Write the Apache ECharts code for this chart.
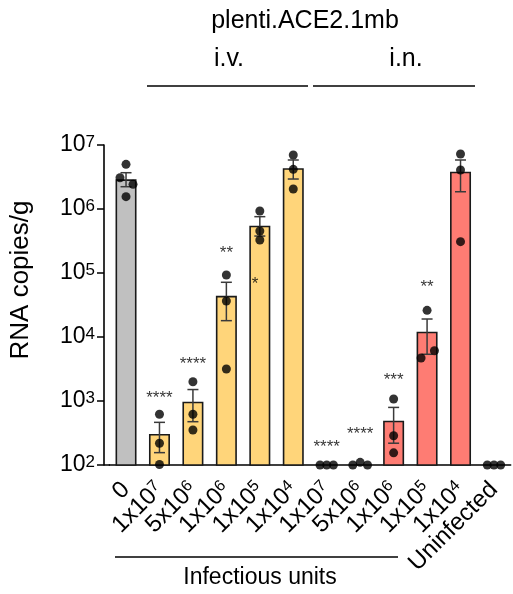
<!DOCTYPE html>
<html>
<head>
<meta charset="utf-8">
<script src="https://cdn.jsdelivr.net/npm/echarts@6/dist/echarts.min.js"></script>
<style>
  html, body { margin: 0; padding: 0; background: #fff; }
  #main { width: 513px; height: 594px; }
</style>
</head>
<body>
<div id="main"></div>
<script>
// categories (route groups: 0 = control, 1-5 i.v., 6-10 i.n., 11 uninfected)
var categories = ["0", "1x10^7", "5x10^6", "1x10^6", "1x10^5", "1x10^4",
  "1x10^7", "5x10^6", "1x10^6", "1x10^5", "1x10^4", "Uninfected"];
var barColors = ["#c0c0c0", "#ffd57a", "#ffd57a", "#ffd57a", "#ffd57a", "#ffd57a",
  "#fe7c73", "#fe7c73", "#fe7c73", "#fe7c73", "#fe7c73", "#fe7c73"];
// mean RNA copies/g (null = at detection limit, no bar)
var means = [2.91e6, 305, 977, 44000, 548000, 4.33e6, null, null, 493, 12100, 3.83e6, null];
// SEM bounds
var errLow = [2.23e6, 156, 475, 18000, 378000, 2.94e6, null, null, 219, 5370, 1.86e6, null];
var errHigh = [3.69e6, 464, 1510, 71600, 759000, 5.83e6, null, null, 794, 19100, 5.83e6, null];
// individual animals: [category, jitter, value]
var points = [
  [0, -0.18, 3.08e6], [0, 0, 4.99e6], [0, 0.21, 2.43e6], [0, 0, 1.56e6],
  [1, 0, 620], [1, 0, 219], [1, 0, 102],
  [2, 0, 2000], [2, 0, 620], [2, 0, 352],
  [3, 0, 93000], [3, 0, 36500], [3, 0, 3160],
  [4, 0, 931000], [4, 0, 453000], [4, 0, 328000],
  [5, 0, 6.98e6], [5, 0, 4.17e6], [5, 0, 2.05e6],
  [6, -0.2, 100], [6, 0, 100], [6, 0.2, 100],
  [7, -0.22, 100], [7, 0, 110], [7, 0.22, 100],
  [8, 0, 1075], [8, 0, 287], [8, 0, 155],
  [9, 0, 26100], [9, -0.18, 4700], [9, 0.22, 6110],
  [10, 0, 7.23e6], [10, 0, 4.06e6], [10, 0, 309000],
  [11, -0.2, 100], [11, 0, 100], [11, 0.2, 100]
];
// significance marks: [category, offset, value, text]
var stars = [
  [1, 0, 1210, "****"], [2, 0, 4220, "****"], [3, 0, 223000, "**"],
  [4, -0.14, 73000, "*"], [6, 0, 213, "****"], [7, 0, 331, "****"],
  [8, 0, 2345, "***"], [9, 0, 67300, "**"]
];
var yTicks = [2, 3, 4, 5, 6, 7];

var FONT = "Arial, 'Liberation Sans', sans-serif";

var barData = means.map(function (v, i) {
  return { value: v, itemStyle: { color: barColors[i] } };
});
var errData = [];
errLow.forEach(function (lo, i) {
  if (lo != null) errData.push([i, lo, errHigh[i]]);
});

var chart = echarts.init(document.getElementById("main"));
chart.setOption({
  animation: false,
  title: [{
    text: "plenti.ACE2.1mb", left: 300, top: 4, textAlign: "center",
    textStyle: { fontFamily: FONT, fontSize: 25, fontWeight: "normal", color: "#000" }
  }],
  grid: { left: 109.3, right: 2.3, top: 145, bottom: 129 },
  xAxis: [{
    type: "category",
    data: categories,
    axisLine: { lineStyle: { color: "#000", width: 1.5 } },
    axisTick: { alignWithLabel: true, length: 8, lineStyle: { color: "#000", width: 1.5 } },
    axisLabel: {
      interval: 0, rotate: 45, margin: 21, color: "#000",
      fontFamily: FONT, fontSize: 24,
      formatter: function (v) { return v.replace(/\^(\d+)/, "{s|$1}"); },
      rich: { s: { fontSize: 16, verticalAlign: "top", fontFamily: FONT, color: "#000" } }
    }
  }, {
    type: "value", min: -0.5, max: 11.5, show: false
  }],
  yAxis: {
    type: "log", logBase: 10, min: 100, max: 1e7, offset: 5.3,
    name: "RNA copies/g", nameLocation: "middle", nameGap: 70, nameRotate: 90,
    nameTextStyle: { fontFamily: FONT, fontSize: 26, color: "#000", padding: [0, 0, 0, 50] },
    axisLine: { show: true, onZero: false, lineStyle: { color: "#000", width: 1.6 } },
    axisTick: { show: true, length: 7, lineStyle: { color: "#000", width: 1.5 } },
    splitLine: { show: false },
    axisLabel: {
      margin: 9, color: "#000", fontFamily: FONT, fontSize: 23,
      formatter: function (v) {
        var e = Math.round(Math.log10(v));
        return yTicks.indexOf(e) >= 0 ? "10{s|" + e + "}" : "";
      },
      rich: { s: { fontSize: 17, verticalAlign: "top", fontFamily: FONT, color: "#000" } }
    }
  },
  series: [{
    type: "bar",
    data: barData,
    barWidth: 21,
    itemStyle: { borderColor: "#1a1a1a", borderWidth: 1.6 },
    z: 2
  }, {
    type: "custom",
    data: errData,
    z: 3,
    renderItem: function (params, api) {
      var hi = api.coord([api.value(0), api.value(2)]);
      var lo = api.coord([api.value(0), api.value(1)]);
      var w = 5.5;
      var st = { stroke: "#3a3a3a", lineWidth: 1.5 };
      return {
        type: "group",
        children: [
          { type: "line", shape: { x1: hi[0], y1: hi[1], x2: lo[0], y2: lo[1] }, style: st },
          { type: "line", shape: { x1: hi[0] - w, y1: hi[1], x2: hi[0] + w, y2: hi[1] }, style: st },
          { type: "line", shape: { x1: lo[0] - w, y1: lo[1], x2: lo[0] + w, y2: lo[1] }, style: st }
        ]
      };
    }
  }, {
    type: "scatter",
    xAxisIndex: 1,
    data: points.map(function (p) { return [p[0] + p[1], p[2]]; }),
    symbolSize: 9,
    itemStyle: { color: "#000" },
    clip: false,
    z: 4
  }, {
    type: "scatter",
    xAxisIndex: 1,
    data: stars.map(function (s) { return { value: [s[0] + s[1], s[2]], name: s[3] }; }),
    symbolSize: 0,
    clip: false,
    label: {
      show: true, position: "inside", offset: [0, 3],
      formatter: function (p) { return p.name; },
      fontFamily: FONT, fontSize: 17, color: "#000"
    },
    z: 5
  }],
  graphic: [
    { type: "text", x: 229, y: 47, style: { text: "i.v.", fontFamily: FONT, fontSize: 25, fill: "#000", textAlign: "center" } },
    { type: "text", x: 406, y: 47, style: { text: "i.n.", fontFamily: FONT, fontSize: 25, fill: "#000", textAlign: "center" } },
    { type: "line", shape: { x1: 147, y1: 86, x2: 308, y2: 86 }, style: { stroke: "#000", lineWidth: 1.5 } },
    { type: "line", shape: { x1: 313, y1: 86, x2: 475, y2: 86 }, style: { stroke: "#000", lineWidth: 1.5 } },
    { type: "line", shape: { x1: 104, y1: 465, x2: 110, y2: 465 }, style: { stroke: "#000", lineWidth: 1.5 } },
    { type: "line", shape: { x1: 115, y1: 557, x2: 398, y2: 557 }, style: { stroke: "#000", lineWidth: 1.5 } },
    { type: "text", x: 260, y: 566, style: { text: "Infectious units", fontFamily: FONT, fontSize: 23, fill: "#000", textAlign: "center" } }
  ]
});
</script>
</body>
</html>
